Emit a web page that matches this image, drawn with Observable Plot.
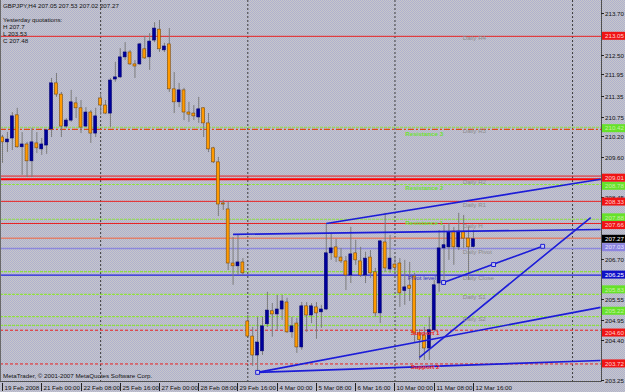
<!DOCTYPE html>
<html><head><meta charset="utf-8">
<script src="https://cdn.jsdelivr.net/npm/d3@7"></script>
<script src="https://cdn.jsdelivr.net/npm/@observablehq/plot@0.6"></script>
<style>
html,body{margin:0;padding:0;}
body{width:625px;height:392px;overflow:hidden;background:repeating-conic-gradient(#c8c8c8 0% 25%, #aeb0d0 0% 50%) 0 0/2px 2px;}
#chart svg{display:block;font-family:"Liberation Sans",sans-serif;}
</style></head><body><div id="chart"></div><script>
// ---- data (H4 bars, GBPJPY) ----
const open  = [210.17,210.03,210.14,210.80,209.89,209.97,209.49,210.00,209.83,209.94,210.40,211.71,211.39,210.48,210.65,211.14,211.00,210.48,210.88,210.28,211.28,211.08,210.85,211.82,211.88,212.45,212.59,212.25,212.25,212.68,212.45,212.93,213.24,212.65,212.82,211.54,211.17,211.51,210.88,210.85,210.74,211.00,210.57,209.86,209.46,208.29,208.12,206.58,206.50,206.61,204.93,204.50,203.96,204.08,204.85,205.22,205.13,205.27,205.47,204.62,204.87,204.19,205.36,205.10,205.33,205.19,205.27,206.87,207.04,206.75,206.64,206.24,206.87,206.64,206.24,206.75,206.33,205.16,207.18,206.41,206.55,206.58,205.80,205.95,206.21,204.59,204.53,204.16,204.68,206.01,207.01,207.04,207.49,207.04,207.47,207.29,207.05];
const high  = [210.23,210.31,210.88,211.00,210.31,210.03,210.43,210.31,210.14,210.40,211.85,211.99,211.45,210.71,211.51,211.31,211.22,211.02,210.94,211.00,211.42,211.22,211.85,212.31,212.70,212.87,212.65,212.36,212.85,213.05,213.13,213.44,213.50,212.85,213.27,212.02,211.71,211.57,211.17,211.08,211.31,211.02,210.85,209.89,209.60,208.38,208.32,207.32,207.38,206.72,205.10,204.76,205.05,205.05,205.76,205.44,205.67,205.67,205.59,205.05,205.02,205.47,205.47,205.44,205.47,205.39,207.72,207.44,207.27,207.01,206.78,207.61,207.24,207.04,206.90,206.95,206.44,207.24,208.01,207.38,206.75,206.72,206.67,206.61,206.30,204.70,204.76,205.05,206.10,207.52,207.66,207.72,207.61,208.01,207.95,207.61,207.53];
const low   = [209.43,209.74,209.80,209.86,209.09,209.03,209.03,209.71,209.66,209.69,210.17,211.31,210.17,210.43,210.60,210.71,210.28,210.45,210.00,210.17,210.80,210.82,210.45,211.74,211.85,212.36,212.22,211.85,212.22,212.39,212.08,212.87,212.59,212.59,211.45,210.85,211.02,210.65,210.60,210.65,210.57,210.17,209.74,209.43,207.92,208.09,206.38,205.96,206.24,206.24,204.50,203.65,203.50,203.96,204.76,204.48,204.68,204.96,204.59,204.45,204.02,204.11,204.62,204.87,204.42,204.73,205.24,206.67,206.61,206.58,205.81,206.01,206.53,206.18,206.01,206.16,205.05,204.87,206.33,206.30,206.30,205.33,205.39,205.50,204.33,203.82,203.82,203.82,204.62,205.76,206.10,206.67,206.53,206.95,207.01,206.10,207.02];
const close = [210.03,210.11,210.77,209.89,209.97,209.49,210.03,209.86,209.97,210.37,211.71,211.39,210.48,210.65,211.17,211.00,210.45,210.88,210.28,210.77,211.08,210.85,211.79,211.88,212.45,212.59,212.25,212.19,212.82,212.42,212.90,213.27,212.68,212.76,211.54,211.17,211.51,210.88,210.82,210.77,210.97,210.57,209.83,209.46,208.26,208.26,206.58,206.50,206.61,206.30,204.50,203.96,204.33,204.79,205.24,205.13,205.27,205.50,204.62,204.79,204.19,205.36,205.10,205.36,205.16,205.27,206.87,207.01,206.75,206.64,206.24,206.84,206.67,206.24,206.72,206.30,205.16,207.21,206.44,206.72,206.45,205.73,205.90,205.85,204.59,204.40,204.16,204.68,205.96,207.01,207.10,207.47,207.04,207.49,207.29,207.04,207.27];

const dateLabels = ["19 Feb 2008","21 Feb 00:00","22 Feb 08:00","25 Feb 16:00","27 Feb 00:00","28 Feb 08:00","29 Feb 16:00","4 Mar 00:00","5 Mar 08:00","6 Mar 16:00","10 Mar 00:00","11 Mar 08:00","12 Mar 16:00"];
const dateLabelBars = [0,8,16,24,32,40,48,56,64,72,80,88,96];
const separatorBars = [20,50,80,116.2];

const priceTicks = [213.70,212.50,211.95,211.35,210.75,210.20,209.60,208.45,206.70,205.55,204.95,204.40,203.25];

// horizontal levels
const redLevels = [213.05,209.07,208.35,207.72];
const redThickLevels = [208.98];
const redDashLevels = [204.68,203.72];
const orangeDashLevels = [210.40];
const greenLevels = [210.46,208.83,207.84,206.35,205.70,205.07,204.82];
const bidLevel = [207.30];
const lavenderLevels = [207.01];
const blueLevels = [206.25];

// price tags on the right axis
const redTags = [213.05,209.01,208.33,207.66,204.60,203.72];
const greenTags = [210.42,208.78,207.88,205.83,205.22];
const blackTags = [207.27];
const purpleTags = [207.03];
const blueTags = [206.25];

// trend lines [bar1, price1, bar2, price2]
const trendLines = [
  [66,207.72,121.9,208.98],
  [47,207.41,121.9,207.55],
  [89.9,206.04,110.1,207.07],
  [85,203.91,119.9,207.89],
  [52,203.48,121.9,205.33],
  [52,203.48,121.9,203.82]
];
const trendPoints = [[52,203.48],[89.9,206.04],[100.1,206.55],[110.1,207.07]];

const pivotNames = ["Resistance 3","Resistance 2","Resistance 1"];
const pivotNamePrices = [210.28,208.72,207.72];
const supportNames = ["Support 1","Support 2"];
const supportNamePrices = [204.59,203.62];
const dailyNames = ["Daily R4","Daily R3","Daily R2","Daily R1","Daily H","Daily Pivot","Daily Close","Daily S1","Daily S2"];
const dailyNamePrices = [212.99,210.34,208.89,208.26,207.64,206.92,206.16,205.64,204.99];

const bars = open.map((o,i)=>({i,o,h:high[i],l:low[i],c:close[i],up:close[i]>=o}));
const lv = (arr)=>arr.map(p=>({p}));

const FS = 6.2;
function chrome(index, scales, values, dims) {
  const {width, height, marginRight, marginBottom} = dims;
  const xr = width - marginRight, yb = height - marginBottom;
  const g = d3.create("svg:g").attr("font-family","Liberation Sans, sans-serif").attr("font-size",FS).attr("text-anchor","start");
  g.append("line").attr("x1",0.5).attr("x2",0.5).attr("y1",0).attr("y2",yb).attr("stroke","#6a6a6a");
  g.append("line").attr("x1",xr+0.5).attr("x2",xr+0.5).attr("y1",0).attr("y2",yb+0.5).attr("stroke","#505050");
  g.append("line").attr("x1",0).attr("x2",xr+0.5).attr("y1",yb+0.5).attr("y2",yb+0.5).attr("stroke","#505050");
  for (const v of priceTicks) {
    const y = Math.round(scales.y(v)) + 0.5;
    g.append("line").attr("x1",xr).attr("x2",xr+3).attr("y1",y).attr("y2",y).attr("stroke","#222");
    g.append("text").attr("x",xr+4).attr("y",y).attr("dy","0.35em").attr("fill","#111").text(v.toFixed(2));
  }
  const tag = (arr, bg, fg) => { for (const v of arr) {
    const y = scales.y(v);
    g.append("rect").attr("x",xr+1).attr("y",y-4).attr("width",24).attr("height",8).attr("fill",bg);
    g.append("text").attr("x",xr+4).attr("y",y).attr("dy","0.35em").attr("fill",fg).text(v.toFixed(2));
  }};
  tag(greenTags,"#66e22a","#c8f0a8");
  tag(redTags,"#f01414","#ffd0d0");
  tag(purpleTags,"#8c84e0","#e6e6ff");
  tag(blueTags,"#1010c8","#ffffff");
  tag(blackTags,"#000000","#ffffff");
  dateLabelBars.forEach((b,k)=>{
    const x = Math.round(scales.x(b)) + 0.5;
    g.append("line").attr("x1",x).attr("x2",x).attr("y1",yb+2).attr("y2",yb+10).attr("stroke","#222");
    g.append("text").attr("x",x+2).attr("y",yb+6.5).attr("dy","0.35em").attr("fill","#111").text(dateLabels[k]);
  });
  const tl = [["GBPJPY,H4 207.05 207.53 207.02 207.27",6],["Yesterday quotations:",20],["H 207.7",27],["L 203.53",34],["C 207.48",41]];
  for (const [t,y] of tl) g.append("text").attr("x",3).attr("y",y).attr("dy","0.35em").attr("fill","#111").text(t);
  g.append("text").attr("x",3).attr("y",yb-5).attr("dy","0.35em").attr("fill","#111").text("MetaTrader, \u00a9 2001-2007 MetaQuotes Software Corp.");
  return g.node();
}

const chart = Plot.plot({
  width: 625, height: 392,
  marginTop: 0, marginLeft: 0, marginRight: 24, marginBottom: 11,
  style: {background: "transparent", overflow: "visible"},
  x: {domain: [-0.41, 122.1], axis: null},
  y: {domain: [203.22, 214.07], axis: null},
  marks: [
    Plot.ruleX(separatorBars, {stroke: "#3c3c3c", strokeDasharray: "2,2", strokeWidth: 1}),
    Plot.ruleY(lv(greenLevels), {y: "p", stroke: "#8ee040", strokeDasharray: "3,1", strokeWidth: 1.2}),
    Plot.ruleY(lv(orangeDashLevels), {y: "p", stroke: "#e04a14", strokeDasharray: "6,2,2,2", strokeWidth: 1.2}),
    Plot.ruleY(lv(redLevels), {y: "p", stroke: "#e82020", strokeWidth: 1}),
    Plot.ruleY(lv(redThickLevels), {y: "p", stroke: "#ff0000", strokeWidth: 2}),
    Plot.ruleY(lv(redDashLevels), {y: "p", stroke: "#e82020", strokeDasharray: "3,2", strokeWidth: 1}),
    Plot.ruleY(lv(bidLevel), {y: "p", stroke: "#e0806c", strokeWidth: 1.5}),
    Plot.ruleY(lv(lavenderLevels), {y: "p", stroke: "#8c88dc", strokeWidth: 1.5}),
    Plot.ruleY(lv(blueLevels), {y: "p", stroke: "#2020e0", strokeWidth: 1.2}),
    Plot.ruleX(bars, {x: "i", y1: "l", y2: "h", stroke: "#7c7c7c", strokeWidth: 1}),
    Plot.rect(bars, {x1: d => d.i - 0.3, x2: d => d.i + 0.3, y1: "o", y2: "c",
      fill: d => d.up ? "#00009c" : "#ff9a00", stroke: d => d.up ? "#000070" : "#7a4c10", strokeWidth: 0.6}),
    Plot.link(trendLines, {x1: d => d[0], y1: d => d[1], x2: d => d[2], y2: d => d[3], stroke: "#1c1cd8", strokeWidth: 1.6}),
    Plot.dot(trendPoints, {x: d => d[0], y: d => d[1], symbol: "square", r: 2.2, stroke: "#1c1cd8", fill: "#c8c8e8", strokeWidth: 1}),
    Plot.text(pivotNames, {x: 82.1, y: (d,i) => pivotNamePrices[i], text: d => d, fill: "#6ee030", fontSize: FS, fontWeight: "bold", textAnchor: "start"}),
    Plot.text(supportNames, {x: 83.2, y: (d,i) => supportNamePrices[i], text: d => d, fill: "#f02020", fontSize: FS, fontWeight: "bold", textAnchor: "start"}),
    Plot.text(["Pivot level"], {x: 82.6, y: 206.16, text: d => d, fill: "#3030c0", fontSize: FS, textAnchor: "start"}),
    Plot.text(dailyNames, {x: 93.8, y: (d,i) => dailyNamePrices[i], text: d => d, fill: "#8c8c8c", fontSize: FS, textAnchor: "start"}),
    chrome
  ]
});
document.getElementById("chart").appendChild(chart);
</script></body></html>
